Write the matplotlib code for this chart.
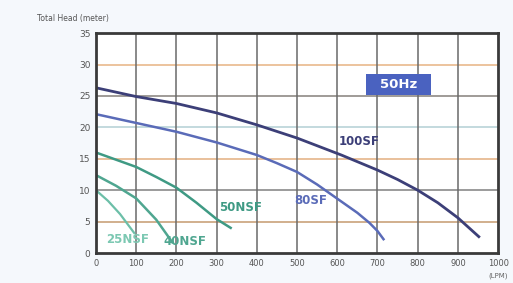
import matplotlib
matplotlib.use("Agg")
import matplotlib.pyplot as plt
from matplotlib.patches import Rectangle

# ---- data (flow in LPM, head in meter) ----
q_100SF = [0, 100, 200, 300, 400, 500, 610, 700, 750, 800, 850, 900, 952]
h_100SF = [26.3, 24.9, 23.8, 22.3, 20.4, 18.3, 15.6, 13.2, 11.7, 10.0, 8.0, 5.6, 2.6]
q_80SF = [0, 100, 200, 300, 400, 450, 500, 550, 610, 650, 680, 700, 715]
h_80SF = [22.1, 20.7, 19.3, 17.6, 15.6, 14.3, 12.9, 10.9, 8.2, 6.4, 4.8, 3.5, 2.2]
q_50NSF = [0, 100, 150, 200, 250, 300, 335]
h_50NSF = [16.0, 13.7, 12.1, 10.4, 8.0, 5.4, 4.0]
q_40NSF = [0, 50, 100, 150, 190]
h_40NSF = [12.4, 10.7, 8.7, 5.3, 1.7]
q_25NSF = [0, 30, 60, 95]
h_25NSF = [10.0, 8.3, 6.2, 3.2]

x_ticks = [0, 100, 200, 300, 400, 500, 600, 700, 800, 900, 1000]
y_ticks = [0, 5, 10, 15, 20, 25, 30, 35]
y_tick_labels = ["0", "5", "10", "15", "20", "25", "30", "35"]

NARROW = "Liberation Sans Narrow"

fig = plt.figure(figsize=(5.13, 2.83), dpi=100)
fig.patch.set_facecolor("#f5f8fc")
ax = fig.add_axes([0.187, 0.106, 0.784, 0.777])
ax.set_facecolor("white")

ax.set_xlim(0, 1000)
ax.set_ylim(0, 35)

# grid
hcolors = {5: "#c9a27a", 10: "#8a8a8a", 15: "#e5b58a", 20: "#b9d3d8", 25: "#8f8a85", 30: "#e9b98c"}
for yv, c in hcolors.items():
    ax.axhline(yv, color=c, lw=1.2, zorder=1)
for xv in x_ticks[1:-1]:
    ax.axvline(xv, color="#6a6a6a", lw=1.1, zorder=1)

# curves
ax.plot(q_100SF, h_100SF, color="#3c3f78", lw=2.0, zorder=3)
ax.plot(q_80SF, h_80SF, color="#5a6bb8", lw=1.8, zorder=3)
ax.plot(q_50NSF, h_50NSF, color="#3f9a84", lw=1.8, zorder=3)
ax.plot(q_40NSF, h_40NSF, color="#4fa690", lw=1.8, zorder=3)
ax.plot(q_25NSF, h_25NSF, color="#6cbfa8", lw=1.6, zorder=3)

# labels
lab = dict(fontsize=8.5, fontweight="bold", ha="center", va="center", family=NARROW, zorder=4)
ax.text(655, 17.8, "100SF", color="#3c3f78", **lab)
ax.text(535, 8.4, "80SF", color="#5a6bb8", **lab)
ax.text(360, 7.2, "50NSF", color="#3f9a84", **lab)
ax.text(222, 1.8, "40NSF", color="#4fa690", **lab)
ax.text(78, 2.1, "25NSF", color="#7cc8b2", **lab)

ax.add_patch(Rectangle((672, 25.2), 162, 3.3, facecolor="#4a62c0", edgecolor="none", zorder=5))
ax.text(753, 26.85, "50Hz", color="white", fontsize=9.5, fontweight="bold", ha="center", va="center", zorder=6)

# ticks
ax.set_xticks(x_ticks)
ax.set_xticklabels([str(v) for v in x_ticks], fontsize=6, color="#555555", family=NARROW)
ax.set_yticks(y_ticks)
ax.set_yticklabels(y_tick_labels, fontsize=6.5, color="#555555", family=NARROW)
ax.tick_params(length=0, pad=4)

for s in ax.spines.values():
    s.set_color("#3a3a3a")
    s.set_linewidth(2.0)
    s.set_zorder(4)

fig.text(0.072, 0.935, "Total Head (meter)", fontsize=5.5, color="#555555", ha="left", va="center", family=NARROW)
fig.text(0.971, 0.025, "(LPM)", fontsize=5, color="#666666", ha="center", va="center", family=NARROW)

fig.savefig("out.png", dpi=100, facecolor=fig.get_facecolor())
